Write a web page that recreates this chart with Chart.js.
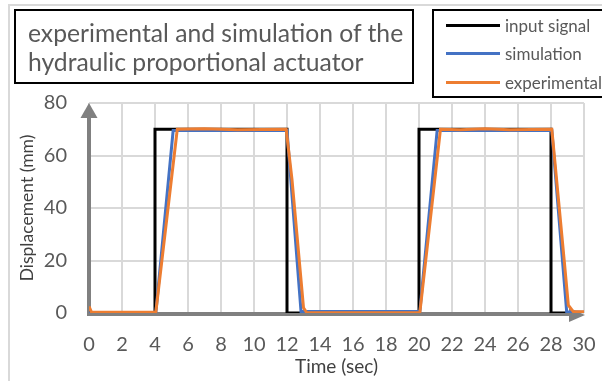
<!DOCTYPE html>
<html>
<head>
<meta charset="utf-8">
<script src="https://cdn.jsdelivr.net/npm/chart.js@4.4.1/dist/chart.umd.min.js"></script>
<style>
  html, body { margin: 0; padding: 0; background: #fff; }
  #wrap { position: relative; width: 602px; height: 381px; overflow: hidden; font-family: Lato, sans-serif; }
  #frame { position: absolute; left: 8px; top: 4px; width: 700px; height: 500px; border: 2px solid #d9d9d9; box-sizing: border-box; }
  #chartTitle { position: absolute; left: 14px; top: 9px; width: 400px; height: 75px; border: 2px solid #000; box-sizing: border-box;
    color: #595959; font-size: 24.7px; line-height: 29px; padding: 7px 0 0 12px; white-space: nowrap; }
  #legendBox { position: absolute; left: 432px; top: 9px; width: 200px; height: 89px; border: 2px solid #000; box-sizing: border-box; }
  .item { position: absolute; left: 12px; height: 28px; display: flex; align-items: center; color: #595959; font-size: 17px; white-space: nowrap; }
  .swatch { width: 54px; height: 3px; margin-right: 5px; }
  canvas { position: absolute; left: 0; top: 0; }
</style>
</head>
<body>
<div id="wrap">
  <div id="frame"></div>
  <canvas id="actuator" width="602" height="381"></canvas>
  <div id="chartTitle">experimental and simulation of the<br>hydraulic proportional actuator</div>
  <div id="legendBox"></div>
</div>
<script>
// step input to the actuator (sec, mm)
var inputTime = [0, 4, 4, 12, 12, 20, 20, 28, 28, 29.1];
var inputDisp = [0, 0, 70, 70, 0, 0, 70, 70, 0, 0];

// simulated piston displacement
var simTime = [0, 4.05, 5.1, 12, 12.85, 20.05, 21.1, 28.05, 28.95, 30];
var simDisp = [0, 0, 69.5, 69.5, 0.6, 0.6, 69.5, 69.5, 0.5, 0.3];

// measured piston displacement
var expTime = [0, 0.15, 4.05, 5.35, 7, 9, 11.95, 12.3, 13.0, 13.2, 16, 20.05, 21.3, 22.5, 24, 25.5, 28.05, 28.5, 28.8, 29.05, 29.35, 30];
var expDisp = [2.5, 0.3, 0.3, 70, 70.2, 69.8, 70, 51, 2, 0.1, 0.1, 0.1, 70, 69.8, 70.2, 69.8, 70, 40, 20, 3, 0.5, 0.5];

var seriesNames = ['input signal', 'simulation', 'experimental'];
var seriesColors = ['#000000', '#4472c4', '#ed7d31'];

function toPoints(xs, ys) {
  return xs.map(function (x, i) { return { x: x, y: ys[i] }; });
}

// axis lines with arrow heads, drawn over the grid but under the series
var axisArrows = {
  id: 'axisArrows',
  beforeDatasetsDraw: function (chart) {
    var ctx = chart.ctx, a = chart.chartArea;
    ctx.save();
    ctx.strokeStyle = '#808080';
    ctx.fillStyle = '#808080';
    ctx.lineWidth = 4;
    ctx.beginPath();
    ctx.moveTo(a.left, a.top + 10);
    ctx.lineTo(a.left, a.bottom + 1);
    ctx.lineTo(a.right - 10, a.bottom + 1);
    ctx.stroke();
    ctx.beginPath();
    ctx.moveTo(a.left, a.top);
    ctx.lineTo(a.left - 8.5, a.top + 15);
    ctx.lineTo(a.left + 8.5, a.top + 15);
    ctx.closePath();
    ctx.fill();
    ctx.beginPath();
    ctx.moveTo(a.right + 1, a.bottom + 2);
    ctx.lineTo(a.right - 15, a.bottom - 5);
    ctx.lineTo(a.right - 15, a.bottom + 9);
    ctx.closePath();
    ctx.fill();
    ctx.restore();
  }
};

var tickFont = { family: 'Lato', size: 20 };

var actuator = document.getElementById('actuator').getContext('2d');
var myChart = new Chart(actuator, {
  type: 'scatter',
  data: {
    datasets: [{
      label: seriesNames[0],
      data: toPoints(inputTime, inputDisp),
      borderColor: seriesColors[0],
      borderWidth: 3,
      showLine: true,
      pointRadius: 0,
      order: 2
    }, {
      label: seriesNames[1],
      data: toPoints(simTime, simDisp),
      borderColor: seriesColors[1],
      borderWidth: 3,
      showLine: true,
      pointRadius: 0,
      order: 1
    }, {
      label: seriesNames[2],
      data: toPoints(expTime, expDisp),
      borderColor: seriesColors[2],
      borderWidth: 3,
      showLine: true,
      pointRadius: 0,
      order: 0
    }]
  },
  options: {
    responsive: false,
    animation: false,
    layout: { padding: { left: 0, right: 18, top: 103, bottom: 0 } },
    plugins: { legend: { display: false }, tooltip: { enabled: false } },
    scales: {
      x: {
        type: 'linear',
        min: 0,
        max: 30,
        afterFit: function (s) { s.height = 68; s.paddingLeft = 0; s.paddingRight = 0; },
        border: { display: false },
        grid: { color: '#d9d9d9', lineWidth: 2, drawTicks: false },
        ticks: { stepSize: 2, padding: 20, color: '#595959', font: tickFont, maxRotation: 0, autoSkip: false },
        title: { display: true, text: 'Time (sec)', color: '#404040', font: { family: 'Lato', size: 19 }, padding: { top: 0, bottom: 3 } }
      },
      y: {
        min: 0,
        max: 80,
        afterFit: function (s) { s.width = 89; },
        border: { display: false },
        grid: { color: '#d9d9d9', lineWidth: 2, drawTicks: false },
        ticks: { stepSize: 20, padding: 22, color: '#595959', font: tickFont },
        title: { display: true, text: 'Displacement (mm)', color: '#404040', font: { family: 'Lato', size: 17.5 }, padding: { top: 17, bottom: 0 } }
      }
    }
  },
  plugins: [axisArrows]
});

// legend box built from the series
var legendBox = document.getElementById('legendBox');
seriesNames.forEach(function (name, i) {
  var item = document.createElement('div');
  item.className = 'item';
  item.style.top = [0, 28, 57][i] + 'px';
  item.innerHTML = '<span class="swatch" style="background:' + seriesColors[i] + '"></span>' + name;
  legendBox.appendChild(item);
});
</script>
</body>
</html>
